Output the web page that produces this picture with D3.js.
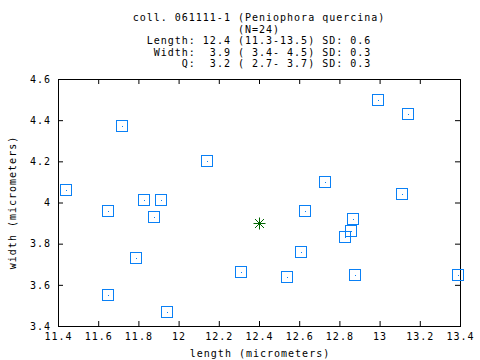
<!DOCTYPE html>
<html>
<head>
<meta charset="utf-8">
<script src="https://cdn.jsdelivr.net/npm/d3@7"></script>
<style>
  body { margin: 0; background: #fff; }
  svg { display: block; }
  text { font-family: "DejaVu Sans Mono", monospace; font-size: 10px; letter-spacing: 1px; fill: #000; white-space: pre; }
</style>
</head>
<body>
<div id="chart"></div>
<script>
var lengths = [11.44, 11.72, 12.14, 11.83, 11.91, 11.65, 11.88, 11.79, 11.65, 11.94, 12.31,
               12.99, 13.14, 12.73, 13.11, 12.63, 12.87, 12.86, 12.83, 12.61, 12.54, 12.88, 13.39];
var widths = [4.06, 4.37, 4.20, 4.01, 4.01, 3.96, 3.93, 3.73, 3.55, 3.47, 3.66,
              4.50, 4.43, 4.10, 4.04, 3.96, 3.92, 3.86, 3.83, 3.76, 3.64, 3.65, 3.65];
var meanPoint = [12.4, 3.9];
var xTicks = [11.4, 11.6, 11.8, 12, 12.2, 12.4, 12.6, 12.8, 13, 13.2, 13.4];
var yTicks = [3.4, 3.6, 3.8, 4, 4.2, 4.4, 4.6];
var titleLines = [
  "coll. 061111-1 (Peniophora quercina)",
  "(N=24)",
  "Length: 12.4 (11.3-13.5) SD: 0.6",
  " Width:  3.9 ( 3.4- 4.5) SD: 0.3",
  "     Q:  3.2 ( 2.7- 3.7) SD: 0.3"
];

var W = 480, H = 360;
var plotL = 58, plotR = 460, plotT = 79, plotB = 326;

var svg = d3.select("#chart").append("svg")
  .attr("width", W).attr("height", H);

var x = d3.scaleLinear().domain([11.4, 13.4]).range([plotL, plotR]);
var y = d3.scaleLinear().domain([3.4, 4.6]).range([plotB, plotT]);
var fmt = function(d) { return String(+d.toFixed(1)); };

// title block
svg.append("g").selectAll("text")
  .data(titleLines).enter().append("text")
  .attr("x", 259)
  .attr("y", function(d, i) { return 21 + i * 11.5; })
  .attr("text-anchor", "middle")
  .text(function(d) { return d; });

// axes, ticks pointing inward on all four sides
function styleAxis(g) {
  g.select(".domain").remove();
  g.selectAll("line").attr("stroke", "#000");
  g.selectAll("text").attr("font-family", null).attr("font-size", null);
}

svg.append("g")
  .attr("transform", "translate(0," + plotB + ")")
  .call(d3.axisBottom(x).tickValues(xTicks).tickFormat(fmt).tickSize(-5).tickPadding(7))
  .call(styleAxis);
svg.append("g")
  .attr("transform", "translate(0," + plotT + ")")
  .call(d3.axisTop(x).tickValues(xTicks).tickFormat("").tickSize(-5))
  .call(styleAxis);
svg.append("g")
  .attr("transform", "translate(" + plotL + ",0)")
  .call(d3.axisLeft(y).tickValues(yTicks).tickFormat(fmt).tickSize(-5).tickPadding(7))
  .call(styleAxis);
svg.append("g")
  .attr("transform", "translate(" + plotR + ",0)")
  .call(d3.axisRight(y).tickValues(yTicks).tickFormat("").tickSize(-5))
  .call(styleAxis);

svg.append("rect")
  .attr("x", plotL + 0.5).attr("y", plotT + 0.5)
  .attr("width", plotR - plotL).attr("height", plotB - plotT)
  .attr("fill", "none").attr("stroke", "#000");

// axis titles
svg.append("text")
  .attr("x", 260).attr("y", 357)
  .attr("text-anchor", "middle")
  .text("length (micrometers)");
svg.append("text")
  .attr("transform", "translate(16," + (plotT + plotB) / 2 + ") rotate(-90)")
  .attr("text-anchor", "middle")
  .text("width (micrometers)");

// points: open squares with a centre dot
var pts = lengths.map(function(l, i) { return [l, widths[i]]; });
var blue = "#0a80f5";
var pg = svg.append("g");
pg.selectAll("rect.box").data(pts).enter().append("rect")
  .attr("class", "box")
  .attr("x", function(d) { return Math.round(x(d[0])) - 5.5; })
  .attr("y", function(d) { return Math.round(y(d[1])) - 5.5; })
  .attr("width", 11).attr("height", 11)
  .attr("fill", "none").attr("stroke", blue).attr("stroke-width", 1);
pg.selectAll("rect.dot").data(pts).enter().append("rect")
  .attr("class", "dot")
  .attr("x", function(d) { return Math.round(x(d[0])); })
  .attr("y", function(d) { return Math.round(y(d[1])); })
  .attr("width", 1).attr("height", 1)
  .attr("fill", blue);

// mean marker: 8-armed star
var mx = Math.round(x(meanPoint[0])) + 0.5, my = Math.round(y(meanPoint[1])) + 0.5, r = 6;
var star = svg.append("g").attr("stroke", "#006400").attr("stroke-width", 1);
[[r, 0], [0, r], [r * 0.75, r * 0.75], [r * 0.75, -r * 0.75]].forEach(function(v) {
  star.append("line")
    .attr("x1", mx - v[0]).attr("y1", my - v[1])
    .attr("x2", mx + v[0]).attr("y2", my + v[1]);
});
</script>
</body>
</html>
